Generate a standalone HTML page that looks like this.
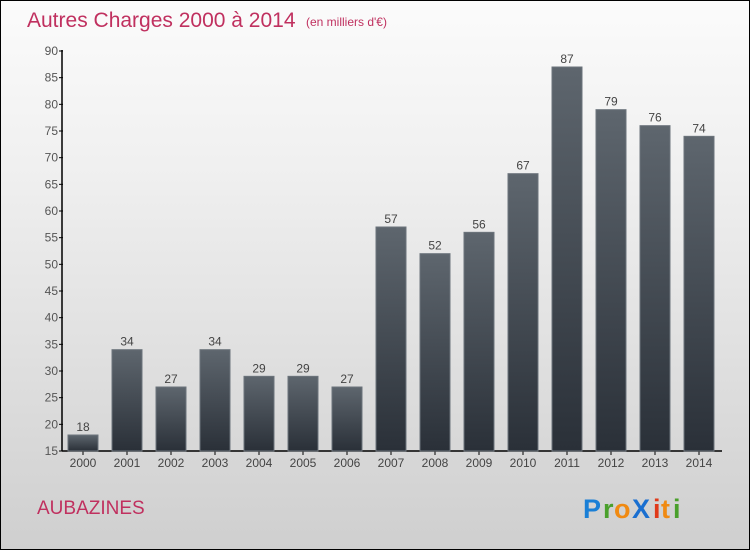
<!DOCTYPE html>
<html><head><meta charset="utf-8"><style>
body{margin:0}
#c{position:relative;width:748px;height:548px;border:1px solid #000;background:linear-gradient(#fbfbfb,#f0f0f0 30%,#cfcfcf);overflow:hidden;font-family:"Liberation Sans",sans-serif}
</style></head><body>
<div id="c">
<svg width="748" height="548" style="position:absolute;left:0;top:0">
<defs><linearGradient id="bg" x1="0" y1="0" x2="0" y2="1"><stop offset="0" stop-color="#5e666e"/><stop offset="1" stop-color="#2a3038"/></linearGradient></defs>
<text x="26" y="26" font-size="21" fill="#c0305f">Autres Charges 2000 à 2014</text>
<text x="305" y="25" font-size="12" fill="#c0305f">(en milliers d'€)</text>
<g id="axes"></g><g id="bars"></g>
<text x="36" y="513" font-size="19" fill="#c0305f">AUBAZINES</text>
<g font-size="27" font-weight="bold" font-family="'Liberation Sans',sans-serif">
<text x="582" y="517" fill="#1a7fd6">P</text><text x="602" y="517" fill="#4aa02c">r</text><text x="613" y="517" fill="#f08a12">o</text><text x="631" y="517" fill="#1a6fd0">X</text><text x="652" y="517" fill="#e03a1a">i</text><text x="660" y="517" fill="#f08a12">t</text><text x="672" y="517" fill="#4aa02c">i</text>
</g>
</svg>
</div>
<script>
const years=["2000","2001","2002","2003","2004","2005","2006","2007","2008","2009","2010","2011","2012","2013","2014"];
const values=[18,34,27,34,29,29,27,57,52,56,67,87,79,76,74];
const yTicks=[15,20,25,30,35,40,45,50,55,60,65,70,75,80,85,90];
const NS="http://www.w3.org/2000/svg";
const y=v=>450-(v-15)*400/75;
const x=i=>82+i*44;
function mk(t,a,p,txt){const e=document.createElementNS(NS,t);for(const k in a)e.setAttribute(k,a[k]);if(txt!==undefined)e.textContent=txt;p.appendChild(e);return e;}
const ax=document.getElementById('axes'),bs=document.getElementById('bars');
let l=mk('line',{x1:61,y1:49,x2:61,y2:450,stroke:'#000','stroke-width':1.5},ax);


l=mk('line',{x1:61,y1:450,x2:721,y2:450,stroke:'#000','stroke-width':1.5},ax);


yTicks.forEach(v=>{
 const tk=mk('line',{x1:58,x2:62,y1:y(v),y2:y(v),stroke:'#000'},ax);
 
 
 const t=mk('text',{x:57,y:y(v)+4,'font-size':12,fill:'#555','text-anchor':'end'},ax,String(v));
 
 
});
years.forEach((yr,i)=>{
 const tk=mk('line',{x1:x(i),x2:x(i),y1:450,y2:454,stroke:'#000'},ax);
 
 
 const t=mk('text',{x:x(i),y:466,'font-size':12,fill:'#444','text-anchor':'middle'},ax,yr);
 
 
 const v=values[i];
 const r=mk('rect',{x:x(i)-15,y:y(v),width:30,height:450-y(v),fill:'url(#bg)',stroke:'#6c747c','stroke-width':1},bs);
 
 
 const vl=mk('text',{x:x(i),y:y(v)-4,'font-size':12,fill:'#444','text-anchor':'middle'},bs,String(v));
 
 
});
</script>
</body></html>
